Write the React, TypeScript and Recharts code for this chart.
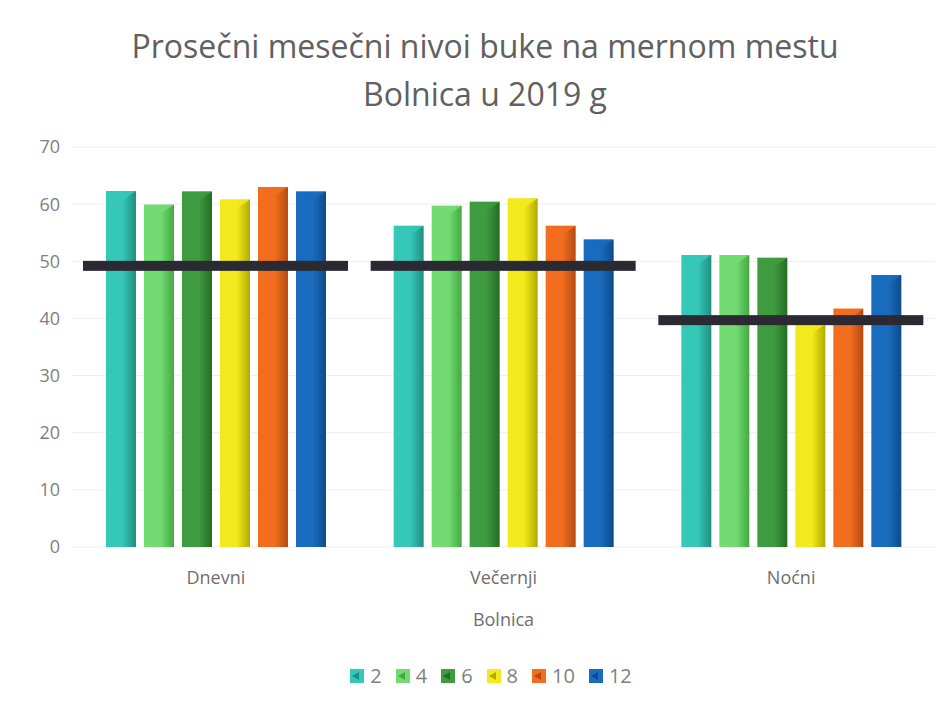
import React from "react";
import { ComposedChart, Bar, XAxis, YAxis, CartesianGrid, Label } from "recharts";

const categories = ["Dnevni", "Večernji", "Noćni"];
const seriesNames = ["2", "4", "6", "8", "10", "12"];
const s2 = [62.3, 56.2, 51.1];
const s4 = [59.9, 59.7, 51.1];
const s6 = [62.2, 60.4, 50.6];
const s8 = [60.8, 61.0, 39.0];
const s10 = [63.0, 56.2, 41.7];
const s12 = [62.2, 53.8, 47.6];
const limits = [49.2, 49.2, 39.7];
const yTicks = [0, 10, 20, 30, 40, 50, 60, 70];

const colors = ["#35c8b8", "#72dc72", "#3f9b3f", "#f2ea1c", "#f26e1e", "#1a6cbf"];
const dark = ["#1f8f83", "#45a845", "#256d25", "#b3aa00", "#b54a10", "#0f4a8a"];

const seriesValues = [s2, s4, s6, s8, s10, s12];
const data = categories.map((c, i) => {
  const row: any = { cat: c, limit: limits[i] };
  seriesNames.forEach((n, k) => (row["s" + n] = seriesValues[k][i]));
  return row;
});

const font = "'Open Sans', 'Liberation Sans', sans-serif";

const LimitShape = (props: any) => {
  const { x, y, width } = props;
  return <rect x={x} y={y - 5} width={width} height={10} fill="#2b2a33" />;
};

const makeBarShape = (k: number) => (props: any) => {
  const { x, y, width, height } = props;
  if (!height || height <= 0) return null;
  const cap = Math.min(10, height);
  return (
    <g>
      <rect x={x} y={y} width={width} height={height} fill={`url(#g${k})`} />
      <polygon
        points={`${x},${y} ${x + width},${y} ${x + width / 2},${y + cap}`}
        fill={colors[k]}
        opacity={0.9}
      />
    </g>
  );
};

const LegendBox = () => (
  <div
    style={{
      position: "absolute",
      left: 0,
      top: 662,
      width: 982,
      display: "flex",
      justifyContent: "center",
      gap: 14,
      fontFamily: font,
      fontSize: 20,
      color: "#7f7f7f",
    }}
  >
    {seriesNames.map((n, k) => (
      <div key={n} style={{ display: "flex", alignItems: "center", gap: 6 }}>
        <svg width={14} height={14}>
          <rect x={0} y={0} width={14} height={14} fill={colors[k]} />
          <polygon points="2,7 9,3 9,11" fill={dark[k]} />
        </svg>
        <span>{n}</span>
      </div>
    ))}
  </div>
);

export default function App() {
  return (
    <div style={{ position: "absolute", left: 0, top: 0, width: 949, height: 708, background: "#fff" }}>
      <div
        style={{
          position: "absolute",
          left: 0,
          top: 22,
          width: 970,
          textAlign: "center",
          fontFamily: font,
          fontSize: 32,
          color: "#606060",
          lineHeight: "48px",
        }}
      >
        Prosečni mesečni nivoi buke na mernom mestu
        <br />
        Bolnica u 2019 g
      </div>
      <ComposedChart
        width={949}
        height={708}
        data={data}
        margin={{ top: 147, right: 14, bottom: 40, left: 12 }}
        barGap={8}
      >
        <defs>
          {colors.map((c, k) => (
            <linearGradient key={k} id={`g${k}`} x1="0" y1="0" x2="1" y2="0">
              <stop offset="0%" stopColor={c} />
              <stop offset="55%" stopColor={c} />
              <stop offset="100%" stopColor={dark[k]} />
            </linearGradient>
          ))}
        </defs>
        <CartesianGrid vertical={false} stroke="#eeeeee" />
        <XAxis
          xAxisId="main"
          dataKey="cat"
          axisLine={false}
          tickLine={false}
          tickSize={0}
          tickMargin={24}
          height={121}
          tick={{ fontFamily: font, fontSize: 18, fill: "#6f6f6f" }}
        >
          <Label value="Bolnica" position="insideTop" offset={66} style={{ fontFamily: font, fontSize: 18, fill: "#6f6f6f" }} />
        </XAxis>
        <XAxis xAxisId="lim" dataKey="cat" hide orientation="top" height={0} />
        <YAxis
          domain={[0, 70]}
          ticks={yTicks}
          axisLine={false}
          tickLine={false}
          tickSize={0}
          tickMargin={12}
          width={60}
          interval={0}
          tick={{ fontFamily: font, fontSize: 18, fill: "#7f7f7f" }}
        />
        {seriesNames.map((n, k) => (
          <Bar
            key={n}
            xAxisId="main"
            dataKey={"s" + n}
            name={n}
            fill={colors[k]}
            barSize={30}
            isAnimationActive={false}
            shape={makeBarShape(k)}
          />
        ))}
        <Bar
          xAxisId="lim"
          dataKey="limit"
          barSize={265}
          isAnimationActive={false}
          shape={LimitShape}
          legendType="none"
        />
      </ComposedChart>
      <LegendBox />
    </div>
  );
}
